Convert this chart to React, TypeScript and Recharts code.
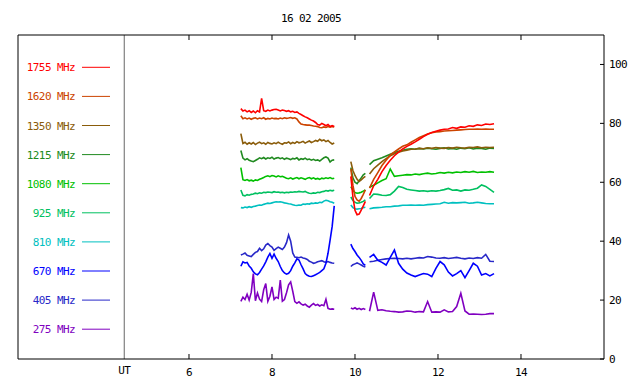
import React from 'react';
import { LineChart, Line, XAxis, YAxis, ReferenceLine } from 'recharts';

// UT hours (gaps marked with null in the series)
const hours = [
  7.25, 7.3, 7.35, 7.4, 7.45, 7.5, 7.55, 7.6, 7.65, 7.7, 7.75, 7.8, 7.85, 7.9, 7.95, 8, 8.05, 8.1, 8.15, 8.2,
  8.25, 8.3, 8.35, 8.4, 8.45, 8.5, 8.55, 8.6, 8.65, 8.7, 8.75, 8.8, 8.85, 8.9, 8.95, 9, 9.05, 9.1, 9.15, 9.2,
  9.25, 9.3, 9.35, 9.4, 9.45, 9.5,
  9.7,
  9.9, 9.95, 10, 10.05, 10.1, 10.15, 10.2, 10.25,
  10.3,
  10.35, 10.45, 10.55, 10.65, 10.75, 10.85, 10.95, 11.05, 11.15, 11.25, 11.35, 11.45, 11.55, 11.65, 11.75,
  11.85, 11.95, 12.05, 12.15, 12.25, 12.35, 12.45, 12.55, 12.65, 12.75, 12.85, 12.95, 13.05, 13.15, 13.25, 13.35,
];

const f1755 = [
  85.0, 84.2, 84.5, 83.9, 84.3, 83.7, 84.2, 83.6, 84.3, 83.9, 88.5, 84.3, 84.1, 84.5, 84.2, 84.5, 84.7, 84.8, 84.5, 84.2,
  84.5, 84.4, 84.1, 84.3, 83.9, 84.1, 83.7, 83.9, 83.4, 83.0, 82.6, 82.2, 81.9, 81.5, 81.1, 80.8, 80.3, 79.6, 79.4, 80.0,
  79.6, 79.2, 79.6, 78.9, 79.2, 78.9,
  null,
  62.0, 55.0, 50.5, 49.0, 49.2, 50.5, 52.0, 53.5,
  null,
  55.5, 58.8, 61.0, 63.6, 65.7, 67.5, 69.0, 70.2, 71.3, 72.2, 72.9, 73.7, 74.6, 75.5, 76.3, 76.9, 77.3, 77.7, 78.0, 78.1,
  78.6, 78.3, 78.8, 78.7, 79.2, 79.0, 79.5, 79.3, 79.8, 79.6, 79.9,
];
const f1620 = [
  82.6, 81.6, 81.9, 81.5, 81.8, 81.4, 81.7, 81.9, 81.5, 81.8, 81.6, 81.9, 81.4, 81.7, 81.5, 81.8, 81.6, 81.7, 81.5, 81.8,
  81.6, 81.9, 81.7, 81.8, 82.0, 81.7, 81.9, 81.5, 80.5, 79.8, 79.6, 79.5, 79.4, 79.4, 79.3, 79.1, 79.0, 78.9, 78.6, 78.5,
  78.8, 78.6, 78.9, 78.7, 78.9, 78.8,
  null,
  64.5, 59.0, 55.2, 54.0, 53.6, 54.5, 55.9, 57.4,
  null,
  58.0, 61.0, 63.3, 65.7, 67.5, 69.2, 70.3, 71.3, 72.2, 72.7, 73.6, 74.4, 75.2, 75.8, 76.4, 76.8, 77.1, 77.2, 77.4, 77.5,
  77.6, 77.7, 77.8, 77.9, 78.0, 78.0, 78.1, 78.0, 78.1, 78.0, 78.0,
];
const f1350 = [
  76.5, 73.2, 73.6, 72.9, 73.4, 73.0, 73.5, 72.8, 73.3, 73.6, 73.1, 73.4, 72.9, 73.5, 73.2, 73.0, 73.4, 73.1, 73.6, 73.2,
  72.9, 73.4, 73.3, 73.7, 73.1, 73.5, 73.2, 73.8, 73.4, 73.6, 73.9, 73.3, 73.7, 74.0, 73.5, 73.8, 74.2, 73.9, 74.6, 74.1,
  74.4, 73.8, 74.2, 73.5, 73.0, 73.3,
  null,
  67.0, 64.0, 62.3, 61.0, 60.3, 60.8, 61.5, 62.0,
  null,
  62.8, 64.6, 65.8, 67.0, 68.0, 69.0, 69.7, 70.2, 70.6, 70.9, 71.2, 71.3, 71.5, 71.4, 71.7, 71.5, 71.8, 71.6, 71.5, 71.8,
  71.6, 71.9, 71.7, 71.6, 71.9, 71.8, 72.0, 71.7, 71.9, 71.8, 71.9,
];
const f1215 = [
  70.8, 68.2, 67.6, 68.0, 67.5, 67.2, 67.0, 67.4, 67.8, 68.3, 68.0, 68.4, 67.9, 68.3, 68.1, 68.5, 67.9, 68.2, 68.4, 68.0,
  68.3, 67.8, 68.2, 68.0, 67.7, 68.1, 67.9, 68.3, 67.6, 68.0, 67.8, 68.2, 67.7, 67.9, 67.5, 67.8, 67.4, 67.6, 67.2, 67.8,
  68.3, 68.6, 68.2, 66.9, 67.5, 67.6,
  null,
  65.0, 61.5, 60.0, 59.5, 60.5, 61.5, 62.5, 63.0,
  null,
  66.0, 67.3, 67.8, 68.3, 68.9, 69.5, 70.1, 70.5, 70.9, 71.2, 71.4, 71.2, 71.5, 71.3, 71.6, 71.4, 71.2, 71.5, 71.7, 71.3,
  71.5, 71.2, 71.6, 71.4, 71.7, 71.3, 71.6, 71.5, 71.2, 71.6, 71.5,
];
const f1080 = [
  65.0, 60.9, 60.6, 60.9, 60.5, 60.7, 60.4, 60.8, 60.6, 61.0, 61.3, 61.6, 62.0, 62.2, 61.9, 62.3, 62.1, 61.8, 62.2, 61.9,
  62.0, 61.7, 61.4, 61.2, 61.5, 61.1, 61.4, 61.6, 61.2, 61.5, 61.3, 61.0, 61.4, 61.6, 61.2, 61.5, 61.1, 61.3, 61.0, 61.4,
  61.2, 61.5, 61.3, 61.6, 61.2, 61.4,
  null,
  58.5, 57.3, 56.5, 56.3, 56.4, 56.6, 57.0, 57.4,
  null,
  58.3, 59.0, 59.8, 60.6, 61.2, 64.5, 62.0, 62.2, 62.4, 62.6, 62.5, 62.8, 62.6, 62.9, 63.1, 62.8, 63.0, 63.3, 63.1, 63.4,
  63.2, 63.5, 63.3, 63.6, 63.4, 63.7, 63.3, 63.5, 63.4, 63.6, 63.4,
];
const f925 = [
  57.4, 55.6, 55.4, 55.8, 55.6, 55.9, 56.0, 56.3, 56.1, 56.4, 56.3, 56.6, 56.5, 56.7, 56.6, 56.5, 56.8, 56.6, 56.7, 56.5,
  56.6, 56.4, 56.6, 56.5, 56.7, 56.6, 56.8, 56.7, 56.9, 56.8, 56.7, 56.9, 56.5, 56.3, 56.2, 56.4, 56.3, 56.6, 56.5, 56.8,
  56.9, 57.2, 57.0, 57.3, 57.1, 57.3,
  null,
  55.0, 53.8, 53.2, 52.9, 53.0, 53.2, 53.5, 54.0,
  null,
  54.5, 56.0, 55.9, 55.6, 55.5, 55.8, 57.0, 58.6, 58.2, 57.6, 57.4, 57.2, 57.0, 57.1, 56.9, 57.1, 57.0, 57.2, 57.5, 57.9,
  57.3, 57.4, 57.0, 57.4, 57.3, 57.6, 58.0, 59.1, 58.6, 57.6, 56.6,
];
const f810 = [
  51.4, 51.3, 51.6, 51.4, 51.7, 51.5, 51.8, 51.9, 52.1, 52.3, 52.2, 52.5, 52.7, 52.9, 52.8, 53.0, 53.2, 53.4, 53.3, 53.4,
  53.2, 53.0, 52.9, 52.7, 52.6, 52.4, 52.2, 52.1, 52.3, 52.2, 52.6, 52.5, 52.7, 52.6, 52.9, 52.8, 53.0, 52.9, 53.2, 53.1,
  53.6, 53.9, 53.7, 53.4, 53.2, 52.9,
  null,
  52.3, 51.4, 51.0, 50.9, 51.0, 51.1, 51.4, 51.5,
  null,
  51.0, 51.3, 51.4, 51.5, 51.7, 51.7, 51.9, 52.0, 52.2, 52.2, 52.3, 52.2, 52.3, 52.2, 52.4, 52.5, 52.6, 52.7, 53.2, 52.9,
  53.1, 53.0, 53.1, 53.2, 52.9, 53.0, 53.2, 53.0, 52.8, 52.7, 52.7,
];
const f670 = [
  31.5, 33.0, 32.6, 32.8, 31.6, 30.8, 29.6, 28.9, 28.6, 29.4, 30.5, 31.6, 33.0, 34.6, 35.8, 34.2, 35.6, 34.2, 33.1, 31.4,
  30.0, 29.2, 28.8, 29.1, 30.0, 31.5, 32.6, 34.0, 33.6, 32.0, 30.6, 29.0, 28.4, 28.1, 28.0, 28.3, 28.6, 29.0, 29.4, 30.0,
  30.6, 32.5, 35.9, 40.4, 45.0, 52.0,
  null,
  39.0, 37.5, 36.5, 35.3, 34.5, 33.5, 32.3, 31.8,
  null,
  34.5, 35.5, 33.5, 32.8, 31.9, 34.5, 37.0, 32.5, 30.5, 29.2, 28.5, 28.0, 28.5, 29.0, 28.8, 28.0, 30.8, 33.1, 32.0, 29.5,
  28.2, 29.0, 30.0, 27.6, 30.0, 32.5, 31.5, 28.5, 29.0, 28.2, 29.0,
];
const f405 = [
  35.3, 35.6, 36.0, 35.2, 35.0, 34.8, 35.5, 36.2, 36.5, 37.6, 36.8, 37.4, 38.7, 39.2, 38.5, 38.0, 36.9, 37.5, 38.0, 37.6,
  37.2, 38.0, 39.5, 42.1, 40.0, 36.0, 34.6, 34.5, 34.4, 34.6, 34.3, 34.1, 33.8, 33.2, 32.9, 32.5, 32.7, 33.0, 33.2, 33.4,
  33.0, 32.8, 33.1, 32.8, 32.6, 32.5,
  null,
  31.4, 32.0, 32.3, 32.6, 32.3, 31.9, 31.5, 31.2,
  null,
  33.0, 33.2, 33.5, 33.8, 34.0, 34.1, 34.2, 34.1, 34.0, 34.2, 34.0, 34.2, 34.4, 34.3, 34.8, 34.6, 34.3, 34.2, 34.4, 34.1,
  34.3, 34.5, 34.2, 34.0, 34.3, 34.1, 34.4, 34.2, 35.5, 33.2, 33.1,
];
const f275 = [
  19.6, 21.0, 20.2, 22.0, 20.0, 22.6, 29.0, 19.8, 22.4, 20.3, 19.5, 23.5, 25.6, 19.6, 21.3, 24.5, 20.2, 21.0, 20.6, 26.8,
  19.6, 20.2, 22.5, 25.2, 26.2, 23.0, 19.5, 18.9, 19.4, 18.7, 18.3, 18.6, 18.0, 17.6, 18.3, 18.8, 18.2, 18.5, 18.0, 18.4,
  18.1, 20.3, 17.2, 16.9, 17.0, 16.9,
  null,
  17.3, 17.0, 17.4, 16.9, 17.2, 16.8, 17.1, 16.8,
  null,
  16.2, 22.7, 16.5, 16.7, 16.4, 16.2, 16.1, 15.9, 16.0, 16.3, 16.2, 15.9, 16.1, 16.0, 19.5, 15.9, 16.0, 15.9, 16.7, 16.0,
  16.1, 17.8, 22.3, 16.3, 15.2, 15.3, 15.2, 15.1, 15.2, 15.4, 15.4,
];

const xTicks = [6, 8, 10, 12, 14];
const yTicks = [0, 20, 40, 60, 80, 100];
const utMarker = 4.44;
const xMin = 1.88;
const xMax = 16;

const series = [
  { key: 'f1755', label: '1755 MHz', color: '#ff0000', values: f1755 },
  { key: 'f1620', label: '1620 MHz', color: '#cc4400', values: f1620 },
  { key: 'f1350', label: '1350 MHz', color: '#8a5c0a', values: f1350 },
  { key: 'f1215', label: '1215 MHz', color: '#208a20', values: f1215 },
  { key: 'f1080', label: '1080 MHz', color: '#00c000', values: f1080 },
  { key: 'f925', label: '925 MHz', color: '#00c060', values: f925 },
  { key: 'f810', label: '810 MHz', color: '#00c0c0', values: f810 },
  { key: 'f670', label: '670 MHz', color: '#0000ff', values: f670 },
  { key: 'f405', label: '405 MHz', color: '#2828c8', values: f405 },
  { key: 'f275', label: '275 MHz', color: '#8000c0', values: f275 },
];

const data = hours.map((h, i) => {
  const row: any = { h };
  series.forEach((s) => { row[s.key] = s.values[i]; });
  return row;
});

const font = { fontFamily: '"DejaVu Sans Mono", monospace', fontSize: 11, letterSpacing: -0.6 };

const BottomTick = (props: any) => {
  const { x, y, payload } = props;
  if (payload.value === utMarker) {
    return <text x={x} y={y + 15} textAnchor="middle" fill="#000" style={font}>UT</text>;
  }
  return (
    <g>
      <line x1={x} x2={x} y1={y} y2={y - 5} stroke="#000" />
      <text x={x} y={y + 17} textAnchor="middle" fill="#000" style={font}>{payload.value}</text>
    </g>
  );
};

const TopTick = (props: any) => {
  const { x, y, payload } = props;
  if (payload.value === utMarker) return <g />;
  return <line x1={x} x2={x} y1={y} y2={y + 5} stroke="#000" />;
};

const RightTick = (props: any) => {
  const { x, y, payload } = props;
  return (
    <g>
      <line x1={x} x2={x - 4} y1={y} y2={y} stroke="#000" />
      <text x={x + 5} y={y + 4} textAnchor="start" fill="#000" style={font}>{payload.value}</text>
    </g>
  );
};

export default function App() {
  const drawOrder = [...series].reverse();
  return (
    <div style={{ position: 'absolute', left: 0, top: 0, width: 640, height: 384, background: '#fff' }}>
      <LineChart width={640} height={384} data={data} margin={{ top: 0, right: 0, bottom: 0, left: 18 }}>
        <XAxis
          dataKey="h"
          type="number"
          domain={[xMin, xMax]}
          ticks={[utMarker, ...xTicks]}
          interval={0}
          height={25}
          tickSize={0}
          tickMargin={0}
          tickLine={false}
          axisLine={{ stroke: '#000' }}
          tick={<BottomTick />}
          allowDataOverflow
        />
        <XAxis
          xAxisId="top"
          orientation="top"
          dataKey="h"
          type="number"
          domain={[xMin, xMax]}
          ticks={xTicks}
          interval={0}
          height={35}
          tickSize={0}
          tickMargin={0}
          tickLine={false}
          axisLine={{ stroke: '#000' }}
          tick={<TopTick />}
          allowDataOverflow
        />
        <YAxis
          orientation="right"
          type="number"
          domain={[0, 110]}
          ticks={yTicks}
          interval={0}
          width={36}
          tickSize={0}
          tickMargin={0}
          tickLine={false}
          axisLine={{ stroke: '#000' }}
          tick={<RightTick />}
          allowDataOverflow
        />
        <ReferenceLine x={xMin} stroke="#000" />
        <ReferenceLine x={utMarker} stroke="#666" />
        {drawOrder.map((s) => (
          <Line
            key={s.key}
            dataKey={s.key}
            stroke={s.color}
            strokeWidth={1.6}
            dot={false}
            type="linear"
            connectNulls={false}
            isAnimationActive={false}
          />
        ))}
      </LineChart>
      <svg width={640} height={384} style={{ position: 'absolute', left: 0, top: 0, pointerEvents: 'none' }}>
        <text x={311} y={22} textAnchor="middle" fill="#000" style={font}>16 02 2005</text>
        {series.map((s, i) => {
          const y = 67.3 + i * 29.1;
          return (
            <g key={s.key}>
              <text x={75} y={y + 4} textAnchor="end" fill={s.color} style={font}>{s.label}</text>
              <line x1={82} x2={110} y1={y} y2={y} stroke={s.color} />
            </g>
          );
        })}
      </svg>
    </div>
  );
}
